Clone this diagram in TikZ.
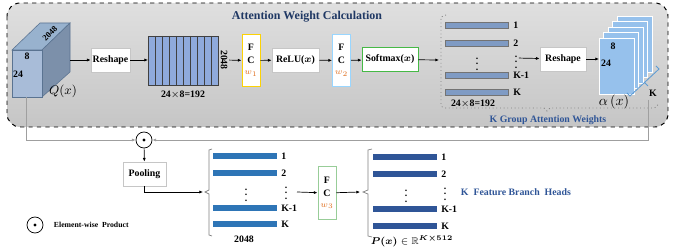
\documentclass[tikz,border=0pt]{standalone}
\usepackage{amsmath,amssymb}
\usepackage{fontspec}
\setmainfont{Liberation Serif}
\usetikzlibrary{arrows.meta}
\definecolor{titleblue}{RGB}{31,56,100}
\definecolor{labelblue}{RGB}{47,85,151}
\definecolor{gridblue}{RGB}{143,170,220}
\definecolor{steelbar}{RGB}{127,155,196}
\definecolor{midbar}{RGB}{46,117,182}
\definecolor{darkbar}{RGB}{47,85,151}
\definecolor{wcol}{RGB}{224,112,32}
\definecolor{cubefront}{RGB}{168,188,216}
\definecolor{cubetop}{RGB}{152,178,206}
\definecolor{cubeside}{RGB}{124,144,170}
\definecolor{cubeedge}{RGB}{90,115,145}
\definecolor{cardfill}{RGB}{150,193,236}
\definecolor{kline}{RGB}{91,155,213}
\tikzset{
  conn/.style={-{Latex[length=2.6pt,width=2.2pt]}, line width=0.5pt},
  wire/.style={draw=gray!75, line width=0.5pt},
  opbox/.style={draw=gray!45, fill=white, line width=0.5pt, minimum height=0.6cm,
    inner sep=1pt, font=\bfseries\fontsize{7}{8}\selectfont},
  fcbox/.style={draw=#1, fill=white, line width=0.7pt, minimum width=0.45cm,
    minimum height=1.32cm, inner sep=0pt, align=center,
    font=\bfseries\fontsize{7}{9}\selectfont},
  lbl/.style={font=\bfseries\fontsize{7}{8}\selectfont, inner sep=1pt},
  barlbl/.style={font=\bfseries\fontsize{7}{8}\selectfont, inner sep=0pt, anchor=west},
  prod/.style={circle, draw, line width=0.5pt, minimum size=0.4cm, inner sep=0pt},
}
\begin{document}
\begin{tikzpicture}[x=0.025cm,y=-0.025cm]
  \useasboundingbox (0,0) rectangle (673,248);
  % Attention weight calculation panel
  \draw[dashed, line width=0.7pt, rounded corners=0.33cm, top color=gray!25, bottom color=gray!45]
    (7,3) rectangle (668,127);
  \node[font=\bfseries\fontsize{8.5}{10}\selectfont, text=titleblue] (title) at (307,17) {Attention Weight Calculation};
  % Cube Q(x)
  \filldraw[draw=cubeedge, fill=cubetop, line width=0.4pt] (12,50) -- (40,23) -- (70,23) -- (42,50) -- cycle;
  \filldraw[draw=cubeedge, fill=cubeside, line width=0.4pt] (42,50) -- (70,23) -- (70,72) -- (42,97) -- cycle;
  \filldraw[draw=cubeedge, fill=cubefront, line width=0.4pt] (12,50) rectangle (42,97);
  \coordinate (cube) at (70,60);
  \coordinate (cubebot) at (26,97);
  \node[lbl] (c8) at (27,56) {8};
  \node[lbl] (c24) at (18,74) {24};
  \node[lbl, font=\bfseries\fontsize{6}{7}\selectfont, inner sep=0pt, rotate=45] (c2048) at (50,34) {2048};
  \node[font=\fontsize{9}{10}\selectfont] (qx) at (63,91) {$Q(x)$};
  % Reshape to 2048 x 192
  \node[opbox, minimum width=0.975cm] (resh1) at (110.5,60) {Reshape};
  \filldraw[draw=black!75, fill=gridblue, line width=0.5pt] (148,36) rectangle (218,85);
  \foreach \i in {1,...,9}
    \draw[black!75, line width=0.4pt] (148+7*\i,36) -- (148+7*\i,85);
  \coordinate (grid) at (148,60);
  \node[lbl] (gsize) at (183,95) {24$\times$8=192};
  \node[lbl, rotate=-90] (g2048) at (224,60) {2048};
  % FC - ReLU - FC - Softmax
  \node[fcbox=yellow!70!orange] (fc1) at (251,60.5) {F\\C\\[-1pt]{\color{wcol}\fontsize{6}{7}\selectfont$w_1$}};
  \node[opbox, minimum width=1.175cm] (relu) at (295.5,60) {ReLU($\boldsymbol{x}$)};
  \node[fcbox=blue!40!cyan!40] (fc2) at (341.5,60.5) {F\\C\\[-1pt]{\color{wcol}\fontsize{6}{7}\selectfont$w_2$}};
  \node[opbox, draw=green!45!gray, minimum width=1.4cm] (soft) at (390,59.5) {Softmax($\boldsymbol{x}$)};
  \coordinate (grp) at (439,60);
  % K group attention weights
  \draw[gray, dotted, line width=0.6pt] (446,15) -- (441,17) -- (441,104) to[out=-90,in=180] (445,108)
    -- (544,108) -- (547,111) -- (550,108) -- (654,108) to[out=0,in=-90] (658,104);
  \foreach \y/\t in {25/1, 43/2, 75/K-1, 92/K} {
    \filldraw[draw=black!55, fill=steelbar, line width=0.4pt] (445,\y-3) rectangle (508,\y+3);
    \node[barlbl] at (513,\y) {\t};
  }
  \node[lbl] (gd1) at (477,60) {$\vdots$};
  \node[lbl] (gd2) at (516,58) {$\vdots$};
  \node[lbl] (gsize2) at (473,104) {24$\times$8=192};
  \node[font=\bfseries\fontsize{7}{8}\selectfont, text=labelblue] (grptitle) at (548,120) {K Group Attention Weights};
  \node[opbox, minimum width=1.15cm] (resh2) at (563,59) {Reshape};
  % alpha(x) stack
  \foreach \k in {4,3,2,1,0}
    \filldraw[draw=white, fill=cardfill, line width=0.6pt]
      (599+4.5*\k,38-5.5*\k) rectangle (634+4.5*\k,94-5.5*\k);
  \coordinate (alpha) at (599,59);
  \node[lbl] (a8) at (613,46) {8};
  \node[lbl] (a24) at (606,63) {24};
  \node[font=\fontsize{10}{11}\selectfont] (ax) at (614,102) {$\alpha\,(x)$};
  \draw[kline, line width=0.6pt] (627,93) -- (630,96) -- (659,69) -- (656,66)
    (644.5,82.5) -- (648,86);
  \node[lbl] (kk) at (653,93) {K};
  % element-wise product
  \node[prod] (dot) at (144,140) {};
  \fill (dot.center) circle (1.1pt);
  \coordinate (kdown) at (648,100);
  % Pooling and feature branches
  \node[opbox, minimum width=1.075cm] (pool) at (144.5,174) {Pooling};
  \coordinate (br2) at (203,192);
  \draw[gray, line width=0.5pt] (212,149) -- (209,150) -- (209,190) -- (205,192) -- (209,194) -- (209,235) -- (212,236);
  \foreach \y/\t in {156/1, 173/2, 208/K-1, 224/K} {
    \fill[midbar] (213,\y-3) rectangle (277,\y+3);
    \node[barlbl] at (281,\y) {\t};
  }
  \node[lbl] (fd1) at (246,191) {$\vdots$};
  \node[lbl] (fd2) at (286,189) {$\vdots$};
  \node[lbl] (f2048) at (244,239) {2048};
  \coordinate (feat) at (297,192);
  \node[fcbox=green!35!gray!60, minimum height=1.3cm] (fc3) at (327,193) {F\\C\\[-1pt]{\color{wcol}\fontsize{6}{7}\selectfont$w_3$}};
  \coordinate (br3) at (360,192);
  \draw[gray, line width=0.5pt] (372,149) -- (368,150) -- (368,190) -- (363,192) -- (368,194) -- (368,236) -- (372,237);
  \foreach \y/\t in {157/1, 174/2, 209/K-1, 226/K} {
    \fill[darkbar] (373,\y-3) rectangle (437,\y+3);
    \node[barlbl] at (441,\y) {\t};
  }
  \node[lbl] (hd1) at (406,192) {$\vdots$};
  \node[lbl] (hd2) at (445,190) {$\vdots$};
  \node[font=\bfseries\fontsize{7}{8}\selectfont, text=labelblue, anchor=west] (heads) at (456,192) {K\ \ Feature Branch\ \ Heads};
  \node[font=\fontsize{7}{8}\selectfont] (px) at (412,241) {$\boldsymbol{P(x)}\in\mathbb{R}^{\boldsymbol{K\times512}}$};
  % legend
  \node[prod] (legdot) at (35,225) {};
  \fill (legdot.center) circle (1.1pt);
  \node[font=\bfseries\fontsize{5.5}{6}\selectfont, anchor=west] (legtxt) at (49,225) {Element-wise\ \ Product};
  % connectors
  \draw[conn] (cube) -- (resh1);
  \draw[conn] (resh1) -- (grid);
  \draw[conn] (g2048) -- (fc1);
  \draw[conn] (fc1) -- (relu);
  \draw[conn] (relu) -- (fc2);
  \draw[conn] (fc2) -- (soft);
  \draw[conn] (soft) -- (grp);
  \draw[conn] (gd2) -- (resh2);
  \draw[conn] (resh2) -- (alpha);
  \draw[wire, conn] (cubebot) |- (dot);
  \draw[wire, conn] (kdown) |- (dot);
  \draw[conn] (dot) -- (pool);
  \draw[conn] (pool.south) |- (br2);
  \draw[conn] (feat) -- (fc3);
  \draw[conn] (fc3) -- (br3);
\end{tikzpicture}
\end{document}
